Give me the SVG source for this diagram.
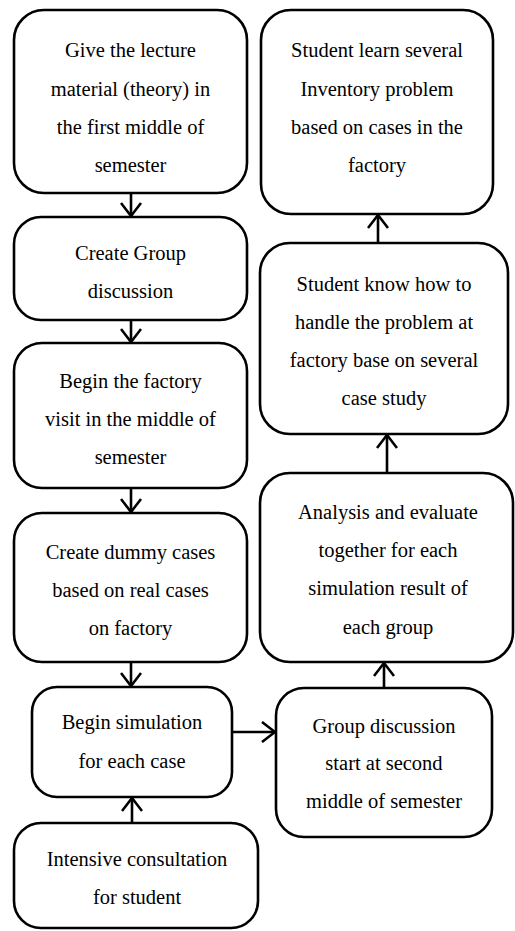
<svg xmlns="http://www.w3.org/2000/svg" width="515" height="931" viewBox="0 0 515 931">
<style>
.box{fill:#fff;stroke:#000;stroke-width:2.6}
.t{font-family:"Liberation Serif","Times New Roman",serif;font-size:20.5px;fill:#000;text-anchor:middle}
.c{stroke:#000;stroke-width:2.6;fill:none}
</style>
<defs>
<marker id="ah" viewBox="0 0 16 22" refX="14" refY="11" markerWidth="16" markerHeight="22" markerUnits="userSpaceOnUse" orient="auto">
<path d="M1,1 L14,11 L1,21" fill="none" stroke="#000" stroke-width="2.6"/>
</marker>
</defs>
<rect width="515" height="931" fill="#fff"/>
<g id="connectors">
<line class="c" x1="131" y1="193" x2="131" y2="216" marker-end="url(#ah)"/>
<line class="c" x1="131" y1="320" x2="131" y2="342" marker-end="url(#ah)"/>
<line class="c" x1="131" y1="488" x2="131" y2="512" marker-end="url(#ah)"/>
<line class="c" x1="131" y1="662" x2="131" y2="686" marker-end="url(#ah)"/>
<line class="c" x1="132" y1="823" x2="132" y2="798" marker-end="url(#ah)"/>
<line class="c" x1="232" y1="732" x2="275" y2="732" marker-end="url(#ah)"/>
<line class="c" x1="384" y1="688" x2="384" y2="663" marker-end="url(#ah)"/>
<line class="c" x1="387" y1="473" x2="387" y2="435" marker-end="url(#ah)"/>
<line class="c" x1="378" y1="243" x2="378" y2="215" marker-end="url(#ah)"/>
</g>
<g id="n1">
<rect class="box" x="14" y="10" width="233" height="183" rx="30"/>
<text class="t" x="130.5" y="57">Give the lecture</text>
<text class="t" x="130.5" y="96">material (theory) in</text>
<text class="t" x="130.5" y="134">the first middle of</text>
<text class="t" x="130.5" y="172">semester</text>
</g>
<g id="n2">
<rect class="box" x="14" y="217" width="233" height="103" rx="27"/>
<text class="t" x="130.5" y="260">Create Group</text>
<text class="t" x="130.5" y="298">discussion</text>
</g>
<g id="n3">
<rect class="box" x="14" y="343" width="233" height="145" rx="28"/>
<text class="t" x="130.5" y="388">Begin the factory</text>
<text class="t" x="130.5" y="426">visit in the middle of</text>
<text class="t" x="130.5" y="464">semester</text>
</g>
<g id="n4">
<rect class="box" x="14" y="513" width="233" height="149" rx="28"/>
<text class="t" x="130.5" y="559">Create dummy cases</text>
<text class="t" x="130.5" y="597">based on real cases</text>
<text class="t" x="130.5" y="635">on factory</text>
</g>
<g id="n5">
<rect class="box" x="32" y="687" width="200" height="110" rx="25"/>
<text class="t" x="132" y="729">Begin simulation</text>
<text class="t" x="132" y="768">for each case</text>
</g>
<g id="n6">
<rect class="box" x="14" y="823" width="244" height="105" rx="27"/>
<text class="t" x="137" y="866">Intensive consultation</text>
<text class="t" x="137" y="904">for student</text>
</g>
<g id="r1">
<rect class="box" x="261" y="10" width="232" height="204" rx="30"/>
<text class="t" x="377" y="57">Student learn several</text>
<text class="t" x="377" y="96">Inventory problem</text>
<text class="t" x="377" y="134">based on cases in the</text>
<text class="t" x="377" y="172">factory</text>
</g>
<g id="r2">
<rect class="box" x="260" y="243" width="248" height="191" rx="30"/>
<text class="t" x="384" y="291">Student know how to</text>
<text class="t" x="384" y="329">handle the problem at</text>
<text class="t" x="384" y="367">factory base on several</text>
<text class="t" x="384" y="405">case study</text>
</g>
<g id="r3">
<rect class="box" x="260" y="473" width="253" height="189" rx="30"/>
<text class="t" x="388" y="519">Analysis and evaluate</text>
<text class="t" x="388" y="557">together for each</text>
<text class="t" x="388" y="595">simulation result of</text>
<text class="t" x="388" y="634">each group</text>
</g>
<g id="r4">
<rect class="box" x="276" y="688" width="216" height="149" rx="28"/>
<text class="t" x="384" y="733">Group discussion</text>
<text class="t" x="384" y="770">start at second</text>
<text class="t" x="384" y="808">middle of semester</text>
</g>
</svg>
